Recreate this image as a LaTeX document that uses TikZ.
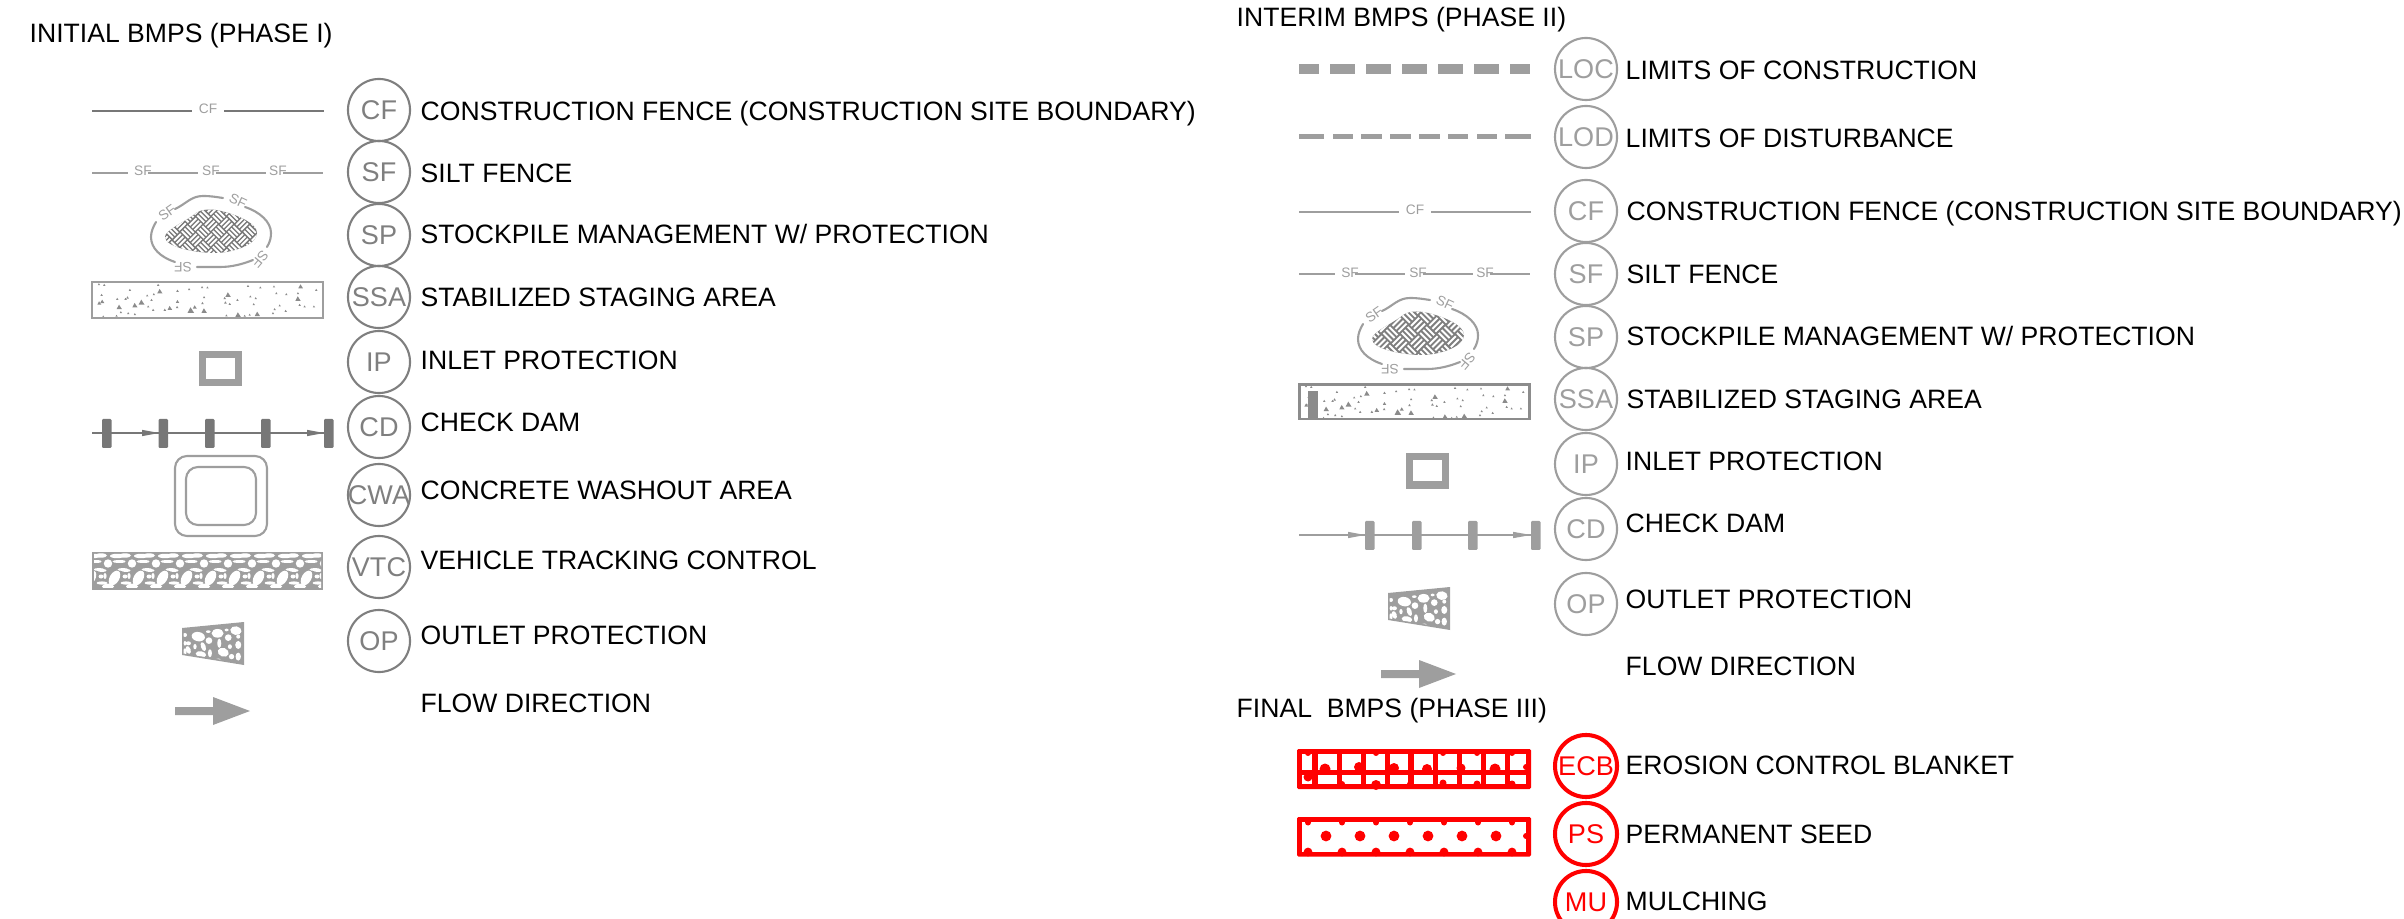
\documentclass[tikz,border=0pt]{standalone}
\usepackage{fontspec}
\setmainfont{Liberation Sans}
\definecolor{gA}{HTML}{7F7F7F}
\definecolor{gB}{HTML}{9E9E9E}
\definecolor{gD}{HTML}{777777}
\definecolor{rd}{HTML}{FF0000}
\newcommand{\cl}[1]{\makebox[0pt][c]{#1}}
\tikzset{
  lbl/.style={anchor=west,inner sep=0pt,text height=0.19cm,text depth=0pt,text=black,font=\fontsize{7.56pt}{8pt}\selectfont},
  ring/.style={circle,draw,inner sep=0pt,minimum size=0.62cm,text height=0.19cm,text depth=0pt,font=\fontsize{7.7pt}{8pt}\selectfont},
  ringA/.style={ring,draw=gA,text=gA,line width=0.6pt},
  ringB/.style={ring,draw=gB,text=gB,line width=0.6pt},
  ringR/.style={ring,draw=rd,text=rd,line width=1.15pt},
  tiny/.style={inner sep=0pt,font=\fontsize{3.9pt}{4pt}\selectfont},
  thinln/.style={line width=0.6pt},
}
% stockpile symbol
\newcommand{\spsym}[5]{%
\begin{scope}[shift={(#1,#2)}]
  \draw[gB,thinln,line cap=round] (175,209) .. controls (186,204) and (191,196) .. (203,196) .. controls (211,196) and (216,197) .. (223,198);
  \draw[gB,thinln,line cap=round] (245,207) .. controls (260,212) and (271,222) .. (271,233) .. controls (271,238) and (270,242) .. (267,247);
  \draw[gB,thinln,line cap=round] (253,260) .. controls (243,264) and (232,267) .. (220,267) .. controls (212,267) and (205,267) .. (197,267);
  \draw[gB,thinln,line cap=round] (175,262) .. controls (160,257) and (151,248) .. (151,237) .. controls (151,232) and (153,227) .. (156,222);
  \node[tiny,text=gB,rotate=35] (#5a) at (167,213) {SF};
  \node[tiny,text=gB,rotate=-25] (#5b) at (238,201) {SF};
  \node[tiny,text=gB,rotate=230] (#5c) at (260,259) {SF};
  \node[tiny,text=gB,rotate=180] (#5d) at (183,267) {SF};
  \begin{scope}
    \clip (165,237) .. controls (165,230) and (185,222) .. (196,213) .. controls (203,208) and (215,209) .. (225,212) .. controls (240,216) and (257,224) .. (257,233) .. controls (257,245) and (232,253) .. (215,253) .. controls (195,253) and (165,247) .. (165,237) -- cycle;
    \fill[#3] (160,205) rectangle (262,258);
    \begin{scope}[shift={(211,232)},rotate=45]
      \foreach \i in {-6,...,6}{\foreach \j in {-6,...,6}{
        \pgfmathsetmacro{\ax}{\i*#4}\pgfmathsetmacro{\ay}{\j*#4}
        \pgfmathsetmacro{\bx}{\ax+#4}\pgfmathsetmacro{\by}{\ay+#4}
        \foreach \f in {0.18,0.5,0.82}{
          \ifodd\numexpr\i+\j+20\relax
            \draw[white,line width=0.55pt] (\ax+0.06*#4,\ay+\f*#4) -- (\bx-0.06*#4,\ay+\f*#4);
          \else
            \draw[white,line width=0.55pt] (\ax+\f*#4,\ay+0.06*#4) -- (\ax+\f*#4,\by-0.06*#4);
          \fi
        }
      }}
    \end{scope}
  \end{scope}
\end{scope}}
% stabilized area speckle
\newcommand{\speckle}[2]{%
\begin{scope}[shift={(#1,#2)},shift={(85,275)},x=0.00333cm,y=-0.00333cm]
  \foreach \x/\y/\r in {42/28/3.5,58/30/3.5,135/45/3.5,220/30/3.5,225/50/8,187/62/3.5,207/58/3.5,200/75/3.5,278/48/4,313/43/3.5,352/37/3.5,368/38/3.5,358/67/3.5,353/85/4,128/68/4,97/72/3.5,122/72/3.5,50/60/3.5,52/80/6,43/85/6,103/97/8,108/112/3.5,130/115/3.5,150/118/3.5,95/123/3.5,150/92/8,170/83/9,190/95/3.5,205/105/3.5,240/105/4,255/100/7,278/80/5,277/97/4,318/107/10,330/97/6,358/108/8,430/60/8,420/70/4,422/83/4,435/87/3.5,458/75/3.5,497/65/3.5,513/70/3.5,507/88/3.5,490/33/3.5,527/38/3.5,568/35/3.5,575/55/3.5,605/58/3.5,640/55/3.5,648/35/7,640/72/8,645/90/3.5,660/95/3.5,688/95/3.5,695/45/3.5,585/92/3.5,570/103/3.5,603/108/3.5,565/115/3.5,518/118/8,495/120/3.5,480/123/3.5,460/120/8,425/122/3.5,55/125/3.5}
    {\fill[gD!85!white] (\x-\r,\y+0.7*\r) -- (\x-0.1*\r,\y-\r) -- (\x+\r,\y+0.7*\r) -- cycle;}
\end{scope}}
% check dam
\newcommand{\cdbar}[3]{\fill[#3,rounded corners=0.3pt] (#1,#2) rectangle ++(9.5,29);}
\newcommand{\ahead}[4]{\fill[#4] (#1,#2) -- (#3,#2-3.2) -- (#3,#2+3.2) -- cycle;}
% outlet protection
\newcommand{\opsym}[2]{%
\begin{scope}[shift={(#1,#2)}]
  \fill[gB] (182,628) -- (244,622) -- (244,665) -- (182,655) -- cycle;
  \begin{scope}
    \clip (183.5,629.5) -- (242.5,624) -- (242.5,663) -- (183.5,653.5) -- cycle;
    \begin{scope}[shift={(175,615)},x=0.00333cm,y=-0.00333cm]
      \foreach \x/\y/\a/\b/\r in {70/65/20/14/-10,128/55/18/13/0,183/47/17/13/-10,160/68/10/10/0,102/77/10/10/0,40/85/8/6/0,133/85/6/14/0,85/95/7/14/20,40/105/7/12/20,145/112/17/13/-20,190/90/9/12/0,190/125/8/12/0,170/125/8/8/0,105/115/6/12/0,78/118/16/9/-10,30/60/6/6/0,30/110/5/10/0,190/65/6/6/0,165/95/6/7/0,60/95/5/8/0,30/85/4/7/0,100/50/7/4/0,155/45/6/4/0,60/128/8/4/0,130/135/8/4/0}
        {\fill[white] (\x,\y) circle [x radius=\a,y radius=\b,rotate=\r];}
    \end{scope}
  \end{scope}
\end{scope}}
% flow arrow
\newcommand{\flowar}[2]{%
\begin{scope}[shift={(#1,#2)}]
  \fill[gB] (175,707) -- (213,707) -- (213,697) -- (250,711) -- (213,725) -- (213,715) -- (175,715) -- cycle;
\end{scope}}
% construction fence & silt fence
\newcommand{\cfsym}[4]{%
\begin{scope}[shift={(#1,#2)}]
  \coordinate (#4a) at (92,110.7); \coordinate (#4b) at (192,110.7);
  \coordinate (#4c) at (224,110.7); \coordinate (#4d) at (324,110.7);
  \draw[#3,thinln] (#4a) -- (#4b);
  \draw[#3,thinln] (#4c) -- (#4d);
  \node[tiny,text=gB] (#4t) at (208,109) {CF};
\end{scope}}
\newcommand{\sfsym}[3]{%
\begin{scope}[shift={(#1,#2)}]
  \draw[gB,thinln] (92,172.7) -- (128,172.7);
  \draw[gB,thinln] (148,172.7) -- (198,172.7);
  \draw[gB,thinln] (216,172.7) -- (266,172.7);
  \draw[gB,thinln] (283,172.7) -- (323,172.7);
  \node[tiny,text=gB] (#3a) at (143,170.7) {SF};
  \node[tiny,text=gB] (#3b) at (211,170.7) {SF};
  \node[tiny,text=gB] (#3c) at (278,170.7) {SF};
\end{scope}}
\begin{document}
\begin{tikzpicture}[x=0.01cm,y=-0.01cm]
\clip (0,0) rectangle (2404,919);
% ---------- titles
\node[lbl] (t1) at (29,33) {INITIAL BMPS (PHASE I)};
\node[lbl] (t2) at (1236,17) {INTERIM BMPS (PHASE II)};
\node[lbl] (t3) at (1236,708) {FINAL\ \ BMPS (PHASE III)};
% ---------- phase I rings and labels
\node[ringA] (a1) at (379,110) {\cl{CF}};
\node[ringA] (a2) at (379,172) {\cl{SF}};
\node[ringA] (a3) at (379,235) {\cl{SP}};
\node[ringA] (a4) at (379,297) {\cl{SSA}};
\node[ringA] (a5) at (379,362) {\cl{IP}};
\node[ringA] (a6) at (379,427) {\cl{CD}};
\node[ringA] (a7) at (379,495) {\cl{CWA}};
\node[ringA] (a8) at (379,567) {\cl{VTC}};
\node[ringA] (a9) at (379,641) {\cl{OP}};
\node[lbl] (la1) at (420,111) {CONSTRUCTION FENCE (CONSTRUCTION SITE BOUNDARY)};
\node[lbl] (la2) at (420,173) {SILT FENCE};
\node[lbl] (la3) at (420,234) {STOCKPILE MANAGEMENT W/ PROTECTION};
\node[lbl] (la4) at (420,297) {STABILIZED STAGING AREA};
\node[lbl] (la5) at (420,360) {INLET PROTECTION};
\node[lbl] (la6) at (420,422) {CHECK DAM};
\node[lbl] (la7) at (420,490) {CONCRETE WASHOUT AREA};
\node[lbl] (la8) at (420,560) {VEHICLE TRACKING CONTROL};
\node[lbl] (la9) at (420,635) {OUTLET PROTECTION};
\node[lbl] (la10) at (420,703) {FLOW DIRECTION};
% ---------- phase I symbols
\cfsym{0}{0}{gD}{acf}
\sfsym{0}{0}{asf}
\spsym{0}{0}{gD}{11}{asp}
\speckle{0}{0}
\draw[gB,line width=0.75pt] (92,282) rectangle (323,318);
\draw[gB,line width=2pt] (202.5,354.5) rectangle (238.5,382.5);
\draw[gD,thinln] (92,433) -- (324,433);
\ahead{159}{433}{142}{gD}
\ahead{324}{433}{307}{gD}
\foreach \bx in {102,158.5,205,261,324}{\cdbar{\bx}{419}{gD}}
\draw[gB,thinln,rounded corners=3.4pt] (175,456) rectangle (267,536);
\draw[gB,thinln,rounded corners=3.4pt] (186,467) rectangle (256,525);
% vehicle tracking
\fill[gB] (92,552) rectangle (323,589.5);
\begin{scope}
  \clip (94,554) rectangle (321,587);
  \foreach \k in {-1,...,9}{
    \begin{scope}[shift={(108+24*\k,0)}]
      \fill[white] (0,563.5) circle (4.2);
      \fill[white] (6.5,578) circle [x radius=8,y radius=4.8,rotate=60];
      \fill[white] (-7,555.5) circle [x radius=6,y radius=2.2];
      \fill[white] (9,556) circle [x radius=7,y radius=2.2];
      \fill[white] (-11,561.5) circle [x radius=4.5,y radius=1.5];
      \fill[white] (10,561.5) circle [x radius=5.5,y radius=1.5];
      \fill[white] (-6,570.5) circle [x radius=4.5,y radius=1.5];
      \fill[white] (15,569.5) circle [x radius=5.5,y radius=1.5];
      \fill[white] (-5,583) circle [x radius=4.5,y radius=1.5];
      \fill[white] (17,583) circle [x radius=4.5,y radius=1.5];
      \fill[white] (0,586.5) circle [x radius=6,y radius=2.8];
      \fill[white] (17,576.5) circle [x radius=2.5,y radius=2];
      \fill[white] (-3,576) circle [x radius=1.6,y radius=3];
    \end{scope}}
\end{scope}
\opsym{0}{0}
\flowar{0}{0}
% ---------- phase II rings and labels
\node[ringB] (b1) at (1586,69) {\cl{LOC}};
\node[ringB] (b2) at (1586,137) {\cl{LOD}};
\node[ringB] (b3) at (1586,211) {\cl{CF}};
\node[ringB] (b4) at (1586,274) {\cl{SF}};
\node[ringB] (b5) at (1586,337) {\cl{SP}};
\node[ringB] (b6) at (1586,399) {\cl{SSA}};
\node[ringB] (b7) at (1586,464) {\cl{IP}};
\node[ringB] (b8) at (1586,529) {\cl{CD}};
\node[ringB] (b9) at (1586,604) {\cl{OP}};
\node[lbl] (lb1) at (1625,70) {LIMITS OF CONSTRUCTION};
\node[lbl] (lb2) at (1625,138) {LIMITS OF DISTURBANCE};
\node[lbl] (lb3) at (1626,211) {CONSTRUCTION FENCE (CONSTRUCTION SITE BOUNDARY)};
\node[lbl] (lb4) at (1626,274) {SILT FENCE};
\node[lbl] (lb5) at (1626,336) {STOCKPILE MANAGEMENT W/ PROTECTION};
\node[lbl] (lb6) at (1626,399) {STABILIZED STAGING AREA};
\node[lbl] (lb7) at (1625,461) {INLET PROTECTION};
\node[lbl] (lb8) at (1625,523) {CHECK DAM};
\node[lbl] (lb9) at (1625,599) {OUTLET PROTECTION};
\node[lbl] (lb10) at (1625,666) {FLOW DIRECTION};
% ---------- phase II symbols
\foreach \p/\q in {1299/1319,1330/1355,1366/1391,1402/1427,1438/1463,1474/1499,1510/1530}
  {\fill[gB] (\p,64) rectangle (\q,74);}
\foreach \p/\q in {1299/1324,1333/1353,1361/1382,1390/1411,1419/1440,1448/1468,1477/1497,1505/1531}
  {\fill[gB] (\p,134) rectangle (\q,139);}
\cfsym{1207}{101}{gB}{bcf}
\sfsym{1207}{101.6}{bsf}
\spsym{1207}{102}{gA}{13}{bsp}
\speckle{1207}{102}
\fill[gD!85!white] (1308,391) rectangle (1318,418);
\draw[gA!90!white,line width=0.85pt] (1299.5,384.5) rectangle (1529,419);
\draw[gB,line width=2pt] (1409.5,456.5) rectangle (1445,485);
\draw[gB,thinln] (1299,535) -- (1531,535);
\ahead{1365}{535}{1348}{gB}
\ahead{1531}{535}{1513}{gB}
\foreach \bx in {1365,1412,1468,1531}{\cdbar{\bx}{521}{gB}}
\opsym{1206}{-35}
\flowar{1206}{-37}
% ---------- phase III
\node[ringR] (c1) at (1586,766) {\cl{ECB}};
\node[ringR] (c2) at (1586,834) {\cl{PS}};
\node[ringR] (c3) at (1586,902) {\cl{MU}};
\node[lbl] (lc1) at (1625,765) {EROSION CONTROL BLANKET};
\node[lbl] (lc2) at (1625,834) {PERMANENT SEED};
\node[lbl] (lc3) at (1625,901) {MULCHING};
% erosion control blanket
\fill[rd,rounded corners=0.4pt] (1297,749) rectangle (1531,789);
\foreach \p/\q in {1302/1312,1318/1337,1342/1361,1366/1385,1390/1408,1414/1433,1438/1457,1462/1481,1486/1505,1510/1526}
  {\fill[white] (\p,754) rectangle (\q,770);
   \fill[white] (\p,775) rectangle (\q,783.5);}
\foreach \bx/\by/\br in {1325/769/5.5,1359/767/5,1394/768/5,1427/769/5,1461/768/4.5,1495/769/5.5,1526/767/3,1308/753/3,1376/753/3,1443/753/3,1477/753/3,1512/753/3,1308/777/4.5,1342/784/3,1376/785/5,1410/784/3,1443/783/3.5,1477/784/3.5,1512/784/3.5}
  {\fill[rd] (\bx,\by) circle (\br);}
% permanent seed
\fill[rd,rounded corners=0.4pt] (1297,817) rectangle (1531,856.5);
\fill[white] (1302,822) rectangle (1526,851.5);
\foreach \k in {0,...,5}{
  \fill[rd] (1326+34*\k,836) circle (5.4);
}
\fill[rd] (1526,836) circle (3);
\foreach \k in {0,...,6}{
  \fill[rd] (1308+34*\k,822.5) circle (3);
  \fill[rd] (1308+34*\k,852) circle (4.4);
}
\end{tikzpicture}
\end{document}
